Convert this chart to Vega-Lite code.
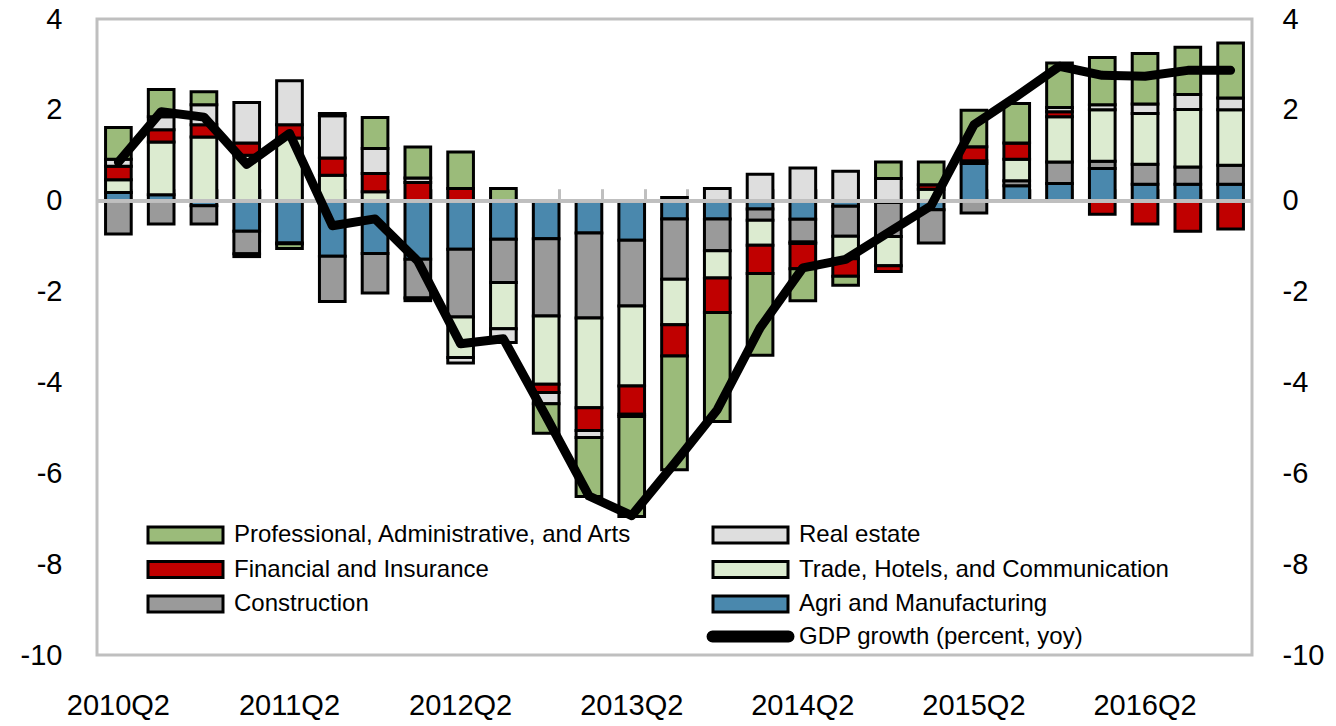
{
  "$schema": "https://vega.github.io/schema/vega-lite/v6.json",
  "width": 1155,
  "height": 636,
  "autosize": {"type": "none"},
  "padding": {"left": 97, "top": 19, "right": 84, "bottom": 71},
  "background": "white",
  "config": {
    "view": {"stroke": "#BFBFBF", "strokeWidth": 3},
    "font": "Liberation Sans",
    "axis": {"labelFont": "Liberation Sans", "labelColor": "black", "grid": false}
  },
  "datasets": {
    "d": [
      {"q": "2010Q2", "Agri and Manufacturing": 0.18, "Construction": -0.73, "Trade, Hotels, and Communication": 0.28, "Financial and Insurance": 0.3, "Real estate": 0.15, "Professional, Administrative, and Arts": 0.7, "gdp": 0.85},
      {"q": "2010Q3", "Agri and Manufacturing": 0.13, "Construction": -0.51, "Trade, Hotels, and Communication": 1.16, "Financial and Insurance": 0.27, "Real estate": 0.29, "Professional, Administrative, and Arts": 0.6, "gdp": 1.96},
      {"q": "2010Q4", "Agri and Manufacturing": -0.11, "Construction": -0.4, "Trade, Hotels, and Communication": 1.4, "Financial and Insurance": 0.27, "Real estate": 0.44, "Professional, Administrative, and Arts": 0.29, "gdp": 1.84},
      {"q": "2011Q1", "Agri and Manufacturing": -0.67, "Construction": -0.5, "Trade, Hotels, and Communication": 1.0, "Financial and Insurance": 0.27, "Real estate": 0.89, "Professional, Administrative, and Arts": -0.06, "gdp": 0.8},
      {"q": "2011Q2", "Agri and Manufacturing": -0.93, "Construction": -0.02, "Trade, Hotels, and Communication": 1.38, "Financial and Insurance": 0.29, "Real estate": 0.97, "Professional, Administrative, and Arts": -0.1, "gdp": 1.48},
      {"q": "2011Q3", "Agri and Manufacturing": -1.22, "Construction": -1.0, "Trade, Hotels, and Communication": 0.56, "Financial and Insurance": 0.38, "Real estate": 0.93, "Professional, Administrative, and Arts": 0.05, "gdp": -0.55},
      {"q": "2011Q4", "Agri and Manufacturing": -1.16, "Construction": -0.87, "Trade, Hotels, and Communication": 0.2, "Financial and Insurance": 0.4, "Real estate": 0.55, "Professional, Administrative, and Arts": 0.68, "gdp": -0.4},
      {"q": "2012Q1", "Agri and Manufacturing": -1.29, "Construction": -0.85, "Trade, Hotels, and Communication": -0.06, "Financial and Insurance": 0.4, "Real estate": 0.1, "Professional, Administrative, and Arts": 0.68, "gdp": -1.33},
      {"q": "2012Q2", "Agri and Manufacturing": -1.07, "Construction": -1.49, "Trade, Hotels, and Communication": -0.89, "Financial and Insurance": 0.27, "Real estate": -0.12, "Professional, Administrative, and Arts": 0.8, "gdp": -3.15},
      {"q": "2012Q3", "Agri and Manufacturing": -0.85, "Construction": -0.95, "Trade, Hotels, and Communication": -1.02, "Financial and Insurance": 0, "Real estate": -0.3, "Professional, Administrative, and Arts": 0.27, "gdp": -3.04},
      {"q": "2012Q4", "Agri and Manufacturing": -0.84, "Construction": -1.7, "Trade, Hotels, and Communication": -1.5, "Financial and Insurance": -0.18, "Real estate": -0.25, "Professional, Administrative, and Arts": -0.65, "gdp": -4.75},
      {"q": "2013Q1", "Agri and Manufacturing": -0.71, "Construction": -1.87, "Trade, Hotels, and Communication": -1.98, "Financial and Insurance": -0.5, "Real estate": -0.15, "Professional, Administrative, and Arts": -1.3, "gdp": -6.5},
      {"q": "2013Q2", "Agri and Manufacturing": -0.87, "Construction": -1.45, "Trade, Hotels, and Communication": -1.76, "Financial and Insurance": -0.62, "Real estate": -0.05, "Professional, Administrative, and Arts": -2.2, "gdp": -6.93},
      {"q": "2013Q3", "Agri and Manufacturing": -0.4, "Construction": -1.33, "Trade, Hotels, and Communication": -1.0, "Financial and Insurance": -0.69, "Real estate": 0.07, "Professional, Administrative, and Arts": -2.5, "gdp": -5.78},
      {"q": "2013Q4", "Agri and Manufacturing": -0.4, "Construction": -0.7, "Trade, Hotels, and Communication": -0.6, "Financial and Insurance": -0.76, "Real estate": 0.27, "Professional, Administrative, and Arts": -2.4, "gdp": -4.6},
      {"q": "2014Q1", "Agri and Manufacturing": -0.18, "Construction": -0.25, "Trade, Hotels, and Communication": -0.55, "Financial and Insurance": -0.62, "Real estate": 0.58, "Professional, Administrative, and Arts": -1.8, "gdp": -2.8},
      {"q": "2014Q2", "Agri and Manufacturing": -0.41, "Construction": -0.5, "Trade, Hotels, and Communication": -0.03, "Financial and Insurance": -0.56, "Real estate": 0.72, "Professional, Administrative, and Arts": -0.7, "gdp": -1.48},
      {"q": "2014Q3", "Agri and Manufacturing": -0.12, "Construction": -0.66, "Trade, Hotels, and Communication": -0.5, "Financial and Insurance": -0.38, "Real estate": 0.65, "Professional, Administrative, and Arts": -0.2, "gdp": -1.29},
      {"q": "2014Q4", "Agri and Manufacturing": -0.04, "Construction": -0.75, "Trade, Hotels, and Communication": -0.64, "Financial and Insurance": -0.13, "Real estate": 0.49, "Professional, Administrative, and Arts": 0.36, "gdp": -0.7},
      {"q": "2015Q1", "Agri and Manufacturing": -0.2, "Construction": -0.73, "Trade, Hotels, and Communication": 0.25, "Financial and Insurance": 0.1, "Real estate": 0, "Professional, Administrative, and Arts": 0.5, "gdp": -0.11},
      {"q": "2015Q2", "Agri and Manufacturing": 0.82, "Construction": -0.27, "Trade, Hotels, and Communication": 0.06, "Financial and Insurance": 0.31, "Real estate": 0, "Professional, Administrative, and Arts": 0.8, "gdp": 1.67},
      {"q": "2015Q3", "Agri and Manufacturing": 0.33, "Construction": 0.11, "Trade, Hotels, and Communication": 0.47, "Financial and Insurance": 0.36, "Real estate": 0, "Professional, Administrative, and Arts": 0.87, "gdp": 2.3},
      {"q": "2015Q4", "Agri and Manufacturing": 0.38, "Construction": 0.47, "Trade, Hotels, and Communication": 1.0, "Financial and Insurance": 0.11, "Real estate": 0.09, "Professional, Administrative, and Arts": 0.98, "gdp": 2.96},
      {"q": "2016Q1", "Agri and Manufacturing": 0.71, "Construction": 0.16, "Trade, Hotels, and Communication": 1.13, "Financial and Insurance": -0.3, "Real estate": 0.11, "Professional, Administrative, and Arts": 1.04, "gdp": 2.76},
      {"q": "2016Q2", "Agri and Manufacturing": 0.36, "Construction": 0.44, "Trade, Hotels, and Communication": 1.12, "Financial and Insurance": -0.51, "Real estate": 0.21, "Professional, Administrative, and Arts": 1.11, "gdp": 2.74},
      {"q": "2016Q3", "Agri and Manufacturing": 0.36, "Construction": 0.38, "Trade, Hotels, and Communication": 1.27, "Financial and Insurance": -0.67, "Real estate": 0.33, "Professional, Administrative, and Arts": 1.04, "gdp": 2.87},
      {"q": "2016Q4", "Agri and Manufacturing": 0.36, "Construction": 0.42, "Trade, Hotels, and Communication": 1.22, "Financial and Insurance": -0.62, "Real estate": 0.26, "Professional, Administrative, and Arts": 1.21, "gdp": 2.87}
    ]
  },
  "data": {"name": "d"},
  "layer": [
    {
      "transform": [
        {"fold": ["Agri and Manufacturing", "Construction", "Trade, Hotels, and Communication", "Financial and Insurance", "Real estate", "Professional, Administrative, and Arts"], "as": ["sector", "value"]},
        {"calculate": "indexof(['Agri and Manufacturing', 'Construction', 'Trade, Hotels, and Communication', 'Financial and Insurance', 'Real estate', 'Professional, Administrative, and Arts'], datum.sector)", "as": "k"}
      ],
      "mark": {"type": "bar", "stroke": "black", "strokeWidth": 3},
      "encoding": {
        "x": {
          "field": "q", "type": "ordinal", "sort": null,
          "scale": {"paddingInner": 0.4, "paddingOuter": 0.2},
          "axis": {"orient": "bottom", "values": ["2010Q2", "2011Q2", "2012Q2", "2013Q2", "2014Q2", "2015Q2", "2016Q2"], "title": null, "labelAngle": 0, "ticks": false, "domain": false, "labelFontSize": 29, "labelPadding": 36}
        },
        "y": {
          "field": "value", "type": "quantitative",
          "scale": {"domain": [-10, 4], "nice": false, "zero": false},
          "axis": {"orient": "left", "values": [-10, -8, -6, -4, -2, 0, 2, 4], "labelExpr": "datum.value", "title": null, "ticks": false, "domain": false, "labelFontSize": 29, "labelPadding": 35}
        },
        "color": {
          "field": "sector", "type": "nominal",
          "scale": {
            "domain": ["Professional, Administrative, and Arts", "Real estate", "Financial and Insurance", "Trade, Hotels, and Communication", "Construction", "Agri and Manufacturing", " ", "GDP growth (percent, yoy)"],
            "range": ["#9BBB7A", "#DEDEDE", "#C00000", "#DCEBD0", "#9A9A9A", "#4A88AD", "#FFFFFF", "#000000"]
          },
          "legend": {
            "title": null, "orient": "none", "direction": "horizontal", "legendX": 47, "legendY": 504, "columns": 2, "columnPadding": 69, "rowPadding": 6.5, "padding": 0,
            "symbolType": "M-1,-1H8.375V1H-1Z", "symbolSize": 256, "symbolStrokeColor": "black", "symbolStrokeWidth": 3, "symbolOpacity": 1,
            "labelFontSize": 24, "labelFont": "Liberation Sans", "labelColor": "black", "labelOffset": 66, "labelLimit": 700,
            "encode": {"symbols": {"update": {
              "shape": {"signal": "datum.value === 'GDP growth (percent, yoy)' ? 'M-1.06,-0.56H8.44A0.56,0.56 0 0 1 8.44,0.56H-1.06A0.56,0.56 0 0 1 -1.06,-0.56Z' : 'M-1,-1H8.375V1H-1Z'"},
              "opacity": {"signal": "datum.value === ' ' ? 0 : 1"}
            }}}
          }
        },
        "order": {"field": "k"}
      }
    },
    {
      "mark": {"type": "rule", "color": "#BFBFBF", "strokeWidth": 3},
      "encoding": {"y": {"datum": 0, "axis": null}}
    },
    {
      "mark": {"type": "line", "color": "black", "strokeWidth": 9, "strokeCap": "round", "strokeJoin": "round"},
      "encoding": {
        "x": {
          "field": "q", "type": "ordinal", "sort": null,
          "axis": {"orient": "top", "offset": -181.71, "labels": false, "title": null, "domain": false, "tickColor": "#BFBFBF", "tickWidth": 3, "tickSize": 12, "tickBand": "extent"}
        },
        "y": {
          "field": "gdp", "type": "quantitative",
          "axis": {"orient": "right", "values": [-10, -8, -6, -4, -2, 0, 2, 4], "labelExpr": "datum.value", "title": null, "ticks": false, "domain": false, "labelFontSize": 29, "labelPadding": 30}
        }
      }
    }
  ],
  "resolve": {"axis": {"x": "independent", "y": "independent"}}
}
